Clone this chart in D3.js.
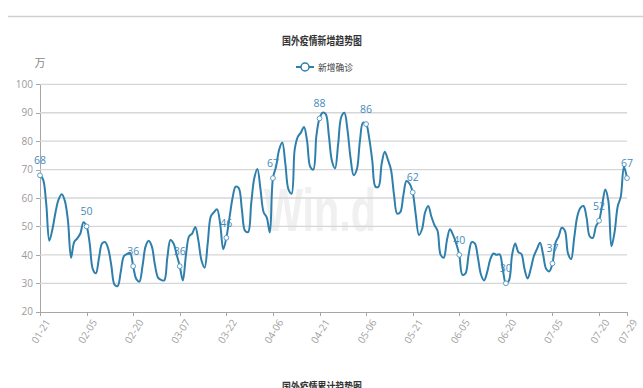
<!DOCTYPE html>
<html>
<head>
<meta charset="utf-8">
<script src="https://cdn.jsdelivr.net/npm/d3@7"></script>
<style>
  html, body { margin: 0; padding: 0; background: #fff; }
  svg { display: block; }
</style>
</head>
<body>
<svg id="chart" width="643" height="388"></svg>
<script>
// Daily new confirmed cases outside China (unit: 万), 2021-01-21 .. 2021-07-29
const startDay = "2021-01-21";
const seriesName = "新增确诊";
const newCases = [
  68, 66.5, 58, 45, 49, 55, 59.5, 61.3, 59, 52,
  39, 44.5, 45.8, 47.5, 51.5, 50, 44, 35, 33.5, 39,
  44, 44.5, 42, 36, 29.5, 29, 34, 39.5, 40.3, 40.7,
  36, 31.5, 30.6, 36, 43, 45, 43, 36.5, 32, 31.2,
  31, 39, 45.2, 44, 40, 36, 31, 40, 46.5, 47.5,
  49.8, 45, 38, 35.5, 44, 53.5, 55, 56, 51, 42,
  46, 53, 60, 64, 63.5, 56, 48.5, 48, 58, 67,
  70.2, 63, 55, 53.2, 47.9, 67, 71, 77, 79.5, 72,
  63, 61.5, 77, 81.5, 83, 85, 80, 71, 70, 82,
  88, 90, 89.5, 82, 73, 70.4, 79, 88.5, 90, 84,
  74, 68, 70, 80, 86.5, 86, 81, 73, 64, 64,
  72, 76.3, 73.5, 70, 61, 54.5, 55, 61, 66, 65,
  62, 54, 47, 49, 55, 57.2, 53.5, 50.5, 48.5, 40,
  39, 45, 49, 47, 44, 40, 33, 33.5, 40, 44.5,
  44, 39, 33, 31, 34, 38.5, 40.5, 40, 40.2, 35,
  30, 31, 40, 44, 41, 40.3, 35, 31.7, 35, 39.5,
  42, 44.3, 40, 35, 34.2, 37, 44.3, 46.5, 49.5, 48.5,
  40.5, 38.5, 46, 53.5, 56.5, 57.2, 53, 46.5, 46, 50,
  52, 57.5, 63, 59, 43, 48, 57, 60.5, 71, 67
];
// Axis ticks; the points on these dates also carry value labels
const tickLabels = ["01-21","02-05","02-20","03-07","03-22","04-06","04-21",
                    "05-06","05-21","06-05","06-20","07-05","07-20","07-29"];
const yTicks = [20, 30, 40, 50, 60, 70, 80, 90, 100];

const fmt = d3.timeFormat("%m-%d");
const t0 = d3.timeParse("%Y-%m-%d")(startDay);
const data = newCases.map((v, i) => ({ date: d3.timeDay.offset(t0, i), value: v }));
data.forEach(d => d.label = fmt(d.date));

const svg = d3.select("#chart");
const W = 643;
const plotLeft = 40, plotRight = 627, plotTop = 84.3, plotBottom = 311.7;

const x = d3.scaleTime()
  .domain([data[0].date, data[data.length - 1].date])
  .range([plotLeft, plotRight]);
const y = d3.scaleLinear().domain([20, 100]).range([plotBottom, plotTop]);

const lineColor = "#2f7fab";
const grey = "#a6a6a6";

// top separator
svg.append("line").attr("x1", 8).attr("x2", W).attr("y1", 16.5).attr("y2", 16.5)
  .attr("stroke", "#d0d0d0").attr("stroke-width", 1.5);

// title
svg.append("text").attr("x", 322).attr("y", 45).attr("text-anchor", "middle")
  .attr("font-family", "Noto Sans CJK SC").attr("font-size", 11).attr("font-weight", "bold")
  .attr("fill", "#333").attr("textLength", 80).attr("lengthAdjust", "spacingAndGlyphs")
  .text("国外疫情新增趋势图");

// legend
const lg = svg.append("g").attr("transform", "translate(305,67)");
lg.append("line").attr("x1", -9).attr("x2", 9).attr("stroke", lineColor).attr("stroke-width", 2);
lg.append("circle").attr("r", 4).attr("fill", "#fff").attr("stroke", lineColor).attr("stroke-width", 1.5);
lg.append("text").attr("x", 13).attr("y", 4).attr("font-family", "Noto Sans CJK SC")
  .attr("font-size", 9.5).attr("fill", "#444").attr("textLength", 35)
  .attr("lengthAdjust", "spacingAndGlyphs").text(seriesName);

// unit
svg.append("text").attr("x", 40).attr("y", 67).attr("text-anchor", "middle")
  .attr("font-family", "Noto Sans CJK SC").attr("font-size", 11).attr("fill", "#888").text("万");

// watermark
svg.append("text").attr("x", 320).attr("y", 231).attr("text-anchor", "middle")
  .attr("font-family", "Liberation Sans").attr("font-weight", "bold").attr("font-size", 62)
  .attr("fill", "#f0f0f0").attr("textLength", 112).attr("lengthAdjust", "spacingAndGlyphs")
  .text("Win.d");

// y axis with gridlines
const yAxis = svg.append("g").attr("transform", `translate(${plotLeft},0)`)
  .call(d3.axisLeft(y).tickValues(yTicks).tickSize(4).tickPadding(3));
yAxis.select(".domain").attr("stroke", grey);
yAxis.selectAll(".tick line").attr("stroke", grey);
yAxis.selectAll(".tick text").attr("fill", "#9a9a9a").attr("font-family", "Open Sans")
  .attr("font-size", 10);
svg.append("g").selectAll("line").data(yTicks.filter(v => v > 20)).join("line")
  .attr("x1", plotLeft).attr("x2", plotRight).attr("y1", d => y(d)).attr("y2", d => y(d))
  .attr("stroke", "#d6d6d6").attr("stroke-width", 1.3);

// x axis
const tickDates = data.filter(d => tickLabels.includes(d.label)).map(d => d.date);
const xAxis = svg.append("g").attr("transform", `translate(0,${plotBottom})`)
  .call(d3.axisBottom(x).tickValues(tickDates).tickFormat(fmt).tickSize(4).tickSizeOuter(0));
xAxis.select(".domain").attr("stroke", grey).attr("stroke-width", 1.3);
xAxis.selectAll(".tick line").attr("stroke", grey);
xAxis.selectAll(".tick text").attr("fill", "#a0a0a0").attr("font-family", "Open Sans")
  .attr("font-size", 10).attr("text-anchor", "end")
  .attr("transform", "translate(2,4) rotate(-58)").attr("dy", "0.35em").attr("dx", "-0.1em");

svg.selectAll(".domain, .tick line").attr("shape-rendering", "crispEdges");

// series line
const line = d3.line().x(d => x(d.date)).y(d => y(d.value)).curve(d3.curveCatmullRom.alpha(0.5));
svg.append("path").datum(data).attr("d", line).attr("fill", "none")
  .attr("stroke", lineColor).attr("stroke-width", 2);

// labelled points
const marked = data.filter(d => tickLabels.includes(d.label));
svg.append("g").selectAll("circle").data(marked).join("circle")
  .attr("cx", d => x(d.date)).attr("cy", d => y(d.value)).attr("r", 2.4)
  .attr("fill", "#fff").attr("stroke", "#5b9dc6").attr("stroke-width", 1);
svg.append("g").selectAll("text").data(marked).join("text")
  .attr("x", d => x(d.date)).attr("y", d => y(d.value) - 11).attr("text-anchor", "middle")
  .attr("font-family", "Open Sans").attr("font-size", 11).attr("fill", "#3f8bbb")
  .attr("textLength", 12).attr("lengthAdjust", "spacingAndGlyphs")
  .text(d => d3.format("d")(Math.round(d.value)));

// heading of the next chart below
svg.append("text").attr("x", 322).attr("y", 391).attr("text-anchor", "middle")
  .attr("font-family", "Noto Sans CJK SC").attr("font-size", 11).attr("font-weight", "bold")
  .attr("fill", "#333").attr("textLength", 80).attr("lengthAdjust", "spacingAndGlyphs")
  .text("国外疫情累计趋势图");
</script>
</body>
</html>
